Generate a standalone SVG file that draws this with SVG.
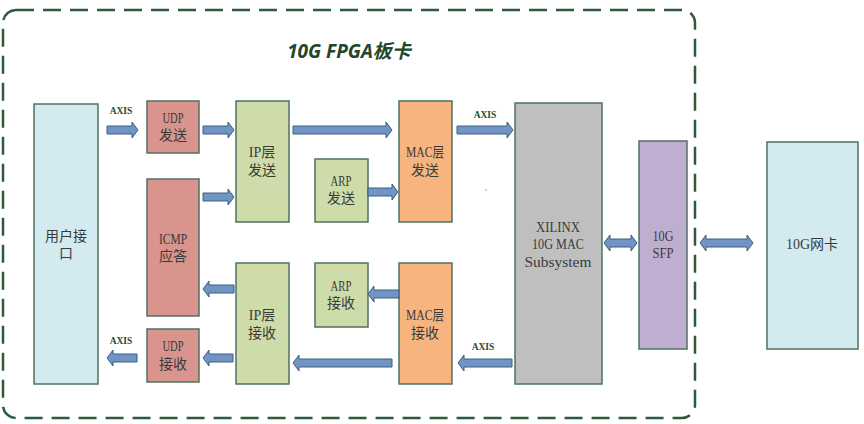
<svg xmlns="http://www.w3.org/2000/svg" width="864" height="424" viewBox="0 0 864 424">
<style>
.box{stroke:#4f7262;stroke-width:1.5}
.t{font-family:"Liberation Serif","Noto Sans CJK SC",serif;font-size:14px;fill:#3a3a3a;text-anchor:middle}
.l{font-size:15px}
.ax{font-family:"Liberation Serif",serif;font-size:9.5px;font-weight:bold;fill:#1f4d2b;text-anchor:middle}
.arr{fill:#7094c3;stroke:#3d5f80;stroke-width:1}
</style>
<rect x="3" y="10" width="692" height="408" rx="13" fill="none" stroke="#2d5a3a" stroke-width="2.5" stroke-dasharray="18 9"/>
<text x="349" y="58" text-anchor="middle" font-family="Noto Sans,Noto Sans CJK SC,sans-serif" font-size="19" font-weight="bold" font-style="italic" fill="#22462b">10G FPGA板卡</text>

<g id="user"><rect class="box" x="34" y="104" width="64" height="280" fill="#d3eaf0"/>
<text class="t" x="66" y="241">用户接</text><text class="t" x="66" y="258">口</text></g>
<g id="udp_tx"><rect class="box" x="147" y="101" width="52" height="52" fill="#d9948e"/>
<text class="t l" x="173" y="123" textLength="21" lengthAdjust="spacingAndGlyphs">UDP</text><text class="t" x="173" y="140">发送</text></g>
<g id="icmp"><rect class="box" x="147" y="179" width="52" height="137" fill="#d9948e"/>
<text class="t l" x="173" y="244" textLength="28" lengthAdjust="spacingAndGlyphs">ICMP</text><text class="t" x="173" y="261">应答</text></g>
<g id="udp_rx"><rect class="box" x="147" y="329" width="52" height="53" fill="#d9948e"/>
<text class="t l" x="173" y="351" textLength="21" lengthAdjust="spacingAndGlyphs">UDP</text><text class="t" x="173" y="369">接收</text></g>
<g id="ip_tx"><rect class="box" x="236" y="101" width="53" height="121" fill="#cddca8"/>
<text class="t" x="262" y="157">IP层</text><text class="t" x="262" y="175">发送</text></g>
<g id="ip_rx"><rect class="box" x="236" y="263" width="53" height="121" fill="#cddca8"/>
<text class="t" x="262" y="320">IP层</text><text class="t" x="262" y="338">接收</text></g>
<g id="arp_tx"><rect class="box" x="315" y="159" width="53" height="63" fill="#cddca8"/>
<text class="t l" x="341" y="186" textLength="21" lengthAdjust="spacingAndGlyphs">ARP</text><text class="t" x="341" y="203">发送</text></g>
<g id="arp_rx"><rect class="box" x="315" y="263" width="53" height="64" fill="#cddca8"/>
<text class="t l" x="341" y="291" textLength="21" lengthAdjust="spacingAndGlyphs">ARP</text><text class="t" x="341" y="308">接收</text></g>
<g id="mac_tx"><rect class="box" x="399" y="101" width="53" height="121" fill="#f7b47f"/>
<text class="t" x="425" y="157" textLength="38" lengthAdjust="spacingAndGlyphs">MAC层</text><text class="t" x="425" y="175">发送</text></g>
<g id="mac_rx"><rect class="box" x="399" y="263" width="53" height="121" fill="#f7b47f"/>
<text class="t" x="425" y="320" textLength="38" lengthAdjust="spacingAndGlyphs">MAC层</text><text class="t" x="425" y="338">接收</text></g>
<g id="xilinx"><rect class="box" x="515" y="103" width="87" height="281" fill="#bfbfbf"/>
<text class="t l" x="558" y="232" textLength="44" lengthAdjust="spacingAndGlyphs">XILINX</text>
<text class="t l" x="558" y="249" textLength="52" lengthAdjust="spacingAndGlyphs">10G MAC</text>
<text class="t l" x="558" y="267" textLength="67" lengthAdjust="spacingAndGlyphs">Subsystem</text></g>
<g id="sfp"><rect class="box" x="639" y="141" width="48" height="208" fill="#c0aed1"/>
<text class="t l" x="663" y="241" textLength="21" lengthAdjust="spacingAndGlyphs">10G</text>
<text class="t l" x="663" y="258" textLength="21" lengthAdjust="spacingAndGlyphs">SFP</text></g>
<g id="nic"><rect class="box" x="767" y="142" width="91" height="207" fill="#d3eaf0"/>
<text class="t" x="812" y="249">10G网卡</text></g>

<g id="connectors">
<path class="arr" d="M107,126 H132 V122 L138,130 L132,138 V134 H107 Z"/>
<path class="arr" d="M203,126 H228 V122 L234,130 L228,138 V134 H203 Z"/>
<path class="arr" d="M293,126 H386 V122 L392,130 L386,138 V134 H293 Z"/>
<path class="arr" d="M457,126 H507 V122 L513,130 L507,138 V134 H457 Z"/>
<path class="arr" d="M203,193 H228 V189 L234,197 L228,205 V201 H203 Z"/>
<path class="arr" d="M368,188 H392 V184 L398,192 L392,200 V196 H368 Z"/>
<path class="arr" d="M234,285 H209 V281 L203,289 L209,297 V293 H234 Z"/>
<path class="arr" d="M399,290 H374 V286 L368,294 L374,302 V298 H399 Z"/>
<path class="arr" d="M233,354 H209 V350 L203,358 L209,366 V362 H233 Z"/>
<path class="arr" d="M137,354 H113 V350 L107,358 L113,366 V362 H137 Z"/>
<path class="arr" d="M392,359 H299 V355 L293,363 L299,371 V367 H392 Z"/>
<path class="arr" d="M512,359 H464 V355 L458,363 L464,371 V367 H512 Z"/>
<path class="arr" d="M604,243 L610,235 V239 H631 V235 L637,243 L631,251 V247 H610 V251 Z"/>
<path class="arr" d="M700,243 L706,235 V239 H747 V235 L753,243 L747,251 V247 H706 V251 Z"/>
<text class="ax" x="121" y="114">AXIS</text>
<text class="ax" x="485" y="118">AXIS</text>
<text class="ax" x="483" y="350">AXIS</text>
<text class="ax" x="121" y="344">AXIS</text>
</g>
<circle cx="486" cy="190" r="0.8" fill="#888"/>
</svg>
